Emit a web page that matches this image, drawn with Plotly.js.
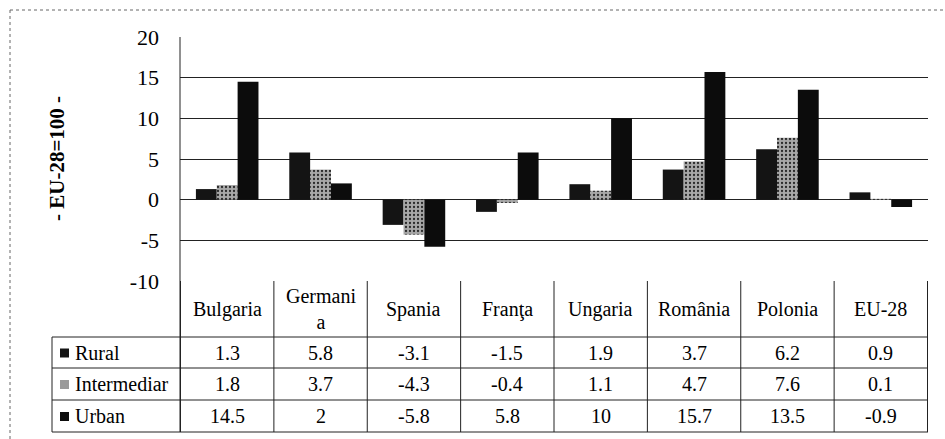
<!DOCTYPE html>
<html><head><meta charset="utf-8">
<script src="https://cdn.plot.ly/plotly-3.0.1.min.js"></script>
<style>html,body{margin:0;padding:0;background:#fff}#chart{width:945px;height:439px}</style>
</head><body><div id="chart"></div>
<script>
const categories = ["Bulgaria","Germania","Spania","Franţa","Ungaria","România","Polonia","EU-28"];
const headerLabels = ["Bulgaria","Germani<br>a","Spania","Franţa","Ungaria","România","Polonia","EU-28"];
const seriesNames = ["Rural","Intermediar","Urban"];
const rural = [1.3, 5.8, -3.1, -1.5, 1.9, 3.7, 6.2, 0.9];
const intermediar = [1.8, 3.7, -4.3, -0.4, 1.1, 4.7, 7.6, 0.1];
const urban = [14.5, 2, -5.8, 5.8, 10, 15.7, 13.5, -0.9];
const yTicks = [-10, -5, 0, 5, 10, 15, 20];
const yTitle = "- EU-28=100 -";

const W = 945, H = 439;
const L = 180, R = 928, T = 37, B = 281;
const px = x => (x - L) / (R - L);
const py = y => (B - y) / (B - T);
const FONT = "Liberation Serif";

const colors = ["#141414", "#9a9a9a", "#0c0c0c"];
const seriesData = [rural, intermediar, urban];

const traces = seriesData.map((vals, i) => ({
  type: "bar",
  name: seriesNames[i],
  x: categories,
  y: vals,
  marker: {
    color: colors[i],
    line: {width: 0},
    pattern: i === 1 ? {shape: ".", bgcolor: "#a8a8a8", fgcolor: "#2a2a2a", size: 4, solidity: 0.25, fillmode: "replace"} : {}
  },
  showlegend: false,
  hoverinfo: "skip"
}));

const shapes = [];
const annotations = [];
const lineStyle = {color: "#222", width: 1};

// outer dotted border
shapes.push({type: "line", xref: "paper", yref: "paper", x0: px(10), x1: px(945), y0: py(10), y1: py(10), line: {color: "#666", width: 1, dash: "dot"}});
shapes.push({type: "line", xref: "paper", yref: "paper", x0: px(10), x1: px(10), y0: py(10), y1: py(440), line: {color: "#666", width: 1, dash: "dot"}});

// table rows (pixel y boundaries)
const rowY = [281, 337, 368, 400, 432];
shapes.push({type: "line", xref: "paper", yref: "paper", x0: 0, x1: 0, y0: 1, y1: py(rowY[4]), line: lineStyle});
for (let r = 1; r < rowY.length; r++) {
  shapes.push({type: "line", xref: "paper", yref: "paper", x0: px(52), x1: 1, y0: py(rowY[r]), y1: py(rowY[r]), line: lineStyle});
}
shapes.push({type: "line", xref: "paper", yref: "paper", x0: px(52), x1: px(52), y0: py(rowY[1]), y1: py(rowY[4]), line: lineStyle});
for (let i = 0; i <= categories.length; i++) {
  shapes.push({type: "line", xref: "x", yref: "paper", x0: i - 0.5, x1: i - 0.5, y0: py(rowY[0]), y1: py(rowY[4]), line: lineStyle});
}

headerLabels.forEach((lab, i) => {
  annotations.push({xref: "x", yref: "paper", x: categories[i], y: py((rowY[0] + rowY[1]) / 2), text: lab, showarrow: false,
    font: {family: FONT, size: 20, color: "#000"}, xanchor: "center", yanchor: "middle"});
});
seriesData.forEach((vals, r) => {
  const yc = py((rowY[r + 1] + rowY[r + 2]) / 2);
  vals.forEach((v, i) => {
    annotations.push({xref: "x", yref: "paper", x: categories[i], y: yc, text: String(v), showarrow: false,
      font: {family: FONT, size: 20, color: "#000"}, xanchor: "center", yanchor: "middle"});
  });
  annotations.push({xref: "paper", yref: "paper", x: px(73), y: yc, text: seriesNames[r], showarrow: false,
    font: {family: FONT, size: 20, color: "#000"}, xanchor: "left", yanchor: "middle"});
  const yPix = (rowY[r + 1] + rowY[r + 2]) / 2;
  shapes.push({type: "rect", xref: "paper", yref: "paper", x0: px(60), x1: px(69), y0: py(yPix - 4), y1: py(yPix + 5),
    fillcolor: colors[r], line: {width: 0}});
});

annotations.push({xref: "paper", yref: "paper", x: px(57), y: 0.5, text: "<b>" + yTitle + "</b>", textangle: -90, showarrow: false,
  font: {family: FONT, size: 21, color: "#000"}, xanchor: "center", yanchor: "middle"});

const layout = {
  width: W, height: H,
  margin: {l: L, r: W - R, t: T, b: H - B, pad: 0},
  paper_bgcolor: "#fff", plot_bgcolor: "#fff",
  barmode: "group", bargap: 0.33, bargroupgap: 0,
  xaxis: {type: "category", showticklabels: false, showgrid: false, zeroline: false, showline: false, ticks: "", fixedrange: true},
  yaxis: {range: [-10, 20], tickvals: yTicks, ticktext: yTicks.map(String), showgrid: true, gridcolor: "#222", gridwidth: 1,
    zeroline: true, zerolinecolor: "#222", zerolinewidth: 1, showline: false, ticks: "", ticklabelstandoff: 20,
    tickfont: {family: FONT, size: 22, color: "#000"}},
  shapes: shapes,
  annotations: annotations,
  showlegend: false
};

Plotly.newPlot("chart", traces, layout, {displayModeBar: false, staticPlot: true});
</script>
</body></html>
